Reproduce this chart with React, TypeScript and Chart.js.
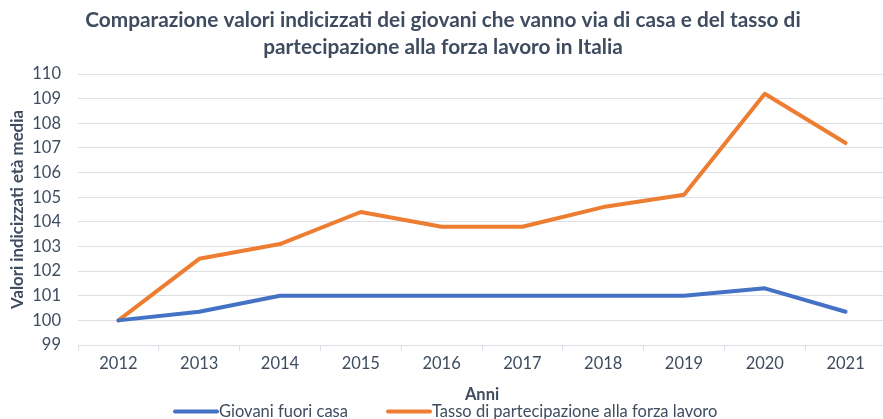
import React, { useEffect, useRef } from "react";
import { Chart, registerables } from "chart.js";

Chart.register(...registerables);

const years = ["2012", "2013", "2014", "2015", "2016", "2017", "2018", "2019", "2020", "2021"];
const giovaniFuoriCasa = [100, 100.35, 101, 101, 101, 101, 101, 101, 101.3, 100.35];
const tassoPartecipazione = [100, 102.5, 103.1, 104.4, 103.8, 103.8, 104.6, 105.1, 109.2, 107.2];
const seriesNames = ["Giovani fuori casa", "Tasso di partecipazione alla forza lavoro"];
const titleLines = [
  "Comparazione valori indicizzati dei giovani che vanno via di casa e del tasso di",
  "partecipazione alla forza lavoro in Italia",
];
const yTitle = "Valori indicizzati età media";
const xTitle = "Anni";

const BLUE = "#4472C4";
const ORANGE = "#ED7D31";
const TEXT = "#3f4c60";
const GRID = "#dcdfe5";
const FONT = "Lato";

const legendPlugin = {
  id: "customLegend",
  afterDraw(chart: any) {
    const ctx = chart.ctx;
    const y = 411.5;
    const items = [
      { color: BLUE, text: seriesNames[0], x0: 175, x1: 217 },
      { color: ORANGE, text: seriesNames[1], x0: 388, x1: 430 },
    ];
    ctx.save();
    ctx.font = `16.5px ${FONT}`;
    ctx.textBaseline = "middle";
    ctx.textAlign = "left";
    for (const it of items) {
      ctx.strokeStyle = it.color;
      ctx.lineWidth = 4;
      ctx.lineCap = "round";
      ctx.beginPath();
      ctx.moveTo(it.x0, y);
      ctx.lineTo(it.x1, y);
      ctx.stroke();
      ctx.fillStyle = TEXT;
      ctx.fillText(it.text, it.x1 + 2, y);
    }
    ctx.restore();
  },
};

export default function App() {
  const ref = useRef<HTMLCanvasElement | null>(null);

  useEffect(() => {
    if (!ref.current) return;
    const chart = new Chart(ref.current, {
      type: "line",
      data: {
        labels: years,
        datasets: [
          {
            label: seriesNames[0],
            data: giovaniFuoriCasa,
            borderColor: BLUE,
            backgroundColor: BLUE,
            borderWidth: 4,
            pointRadius: 0,
            tension: 0,
            borderCapStyle: "round",
            borderJoinStyle: "round",
          },
          {
            label: seriesNames[1],
            data: tassoPartecipazione,
            borderColor: ORANGE,
            backgroundColor: ORANGE,
            borderWidth: 4,
            pointRadius: 0,
            tension: 0,
            borderCapStyle: "round",
            borderJoinStyle: "round",
          },
        ],
      },
      options: {
        responsive: false,
        animation: false,
        layout: { padding: { left: 0, right: 4, top: 0, bottom: 14 } },
        plugins: {
          legend: { display: false },
          tooltip: { enabled: false },
          title: {
            display: true,
            text: titleLines,
            color: TEXT,
            font: { family: FONT, size: 20.8, weight: "bold", lineHeight: 1.3 },
            padding: { top: 7, bottom: 13 },
          },
        },
        scales: {
          x: {
            offset: true,
            grid: {
              display: true,
              offset: true,
              drawOnChartArea: false,
              drawTicks: true,
              tickLength: 6,
              color: GRID,
            },
            border: { display: true, color: GRID },
            ticks: {
              color: TEXT,
              font: { family: FONT, size: 16.5 },
              padding: 3,
              maxRotation: 0,
            },
            title: {
              display: true,
              text: xTitle,
              color: TEXT,
              font: { family: FONT, size: 16.5, weight: "bold" },
              padding: { top: 0, bottom: 0 },
            },
            afterFit(scale: any) {
              scale.height = 60;
            },
          },
          y: {
            min: 99,
            max: 110,
            ticks: {
              stepSize: 1,
              color: TEXT,
              font: { family: FONT, size: 16.5 },
              padding: 17,
            },
            grid: { color: GRID, lineWidth: 1, drawTicks: false },
            border: { display: false },
            title: {
              display: true,
              text: yTitle,
              color: TEXT,
              font: { family: FONT, size: 16.8, weight: "bold" },
              padding: { top: 8, bottom: 0 },
            },
            afterFit(scale: any) {
              scale.width = 78;
            },
          },
        },
      },
      plugins: [legendPlugin],
    });
    return () => chart.destroy();
  }, []);

  return (
    <div
      style={{
        position: "absolute",
        left: 0,
        top: 0,
        width: 883,
        height: 419,
        overflow: "hidden",
        background: "#fff",
      }}
    >
      <canvas ref={ref} width={890} height={419} style={{ width: 890, height: 419, display: "block" }} />
    </div>
  );
}
